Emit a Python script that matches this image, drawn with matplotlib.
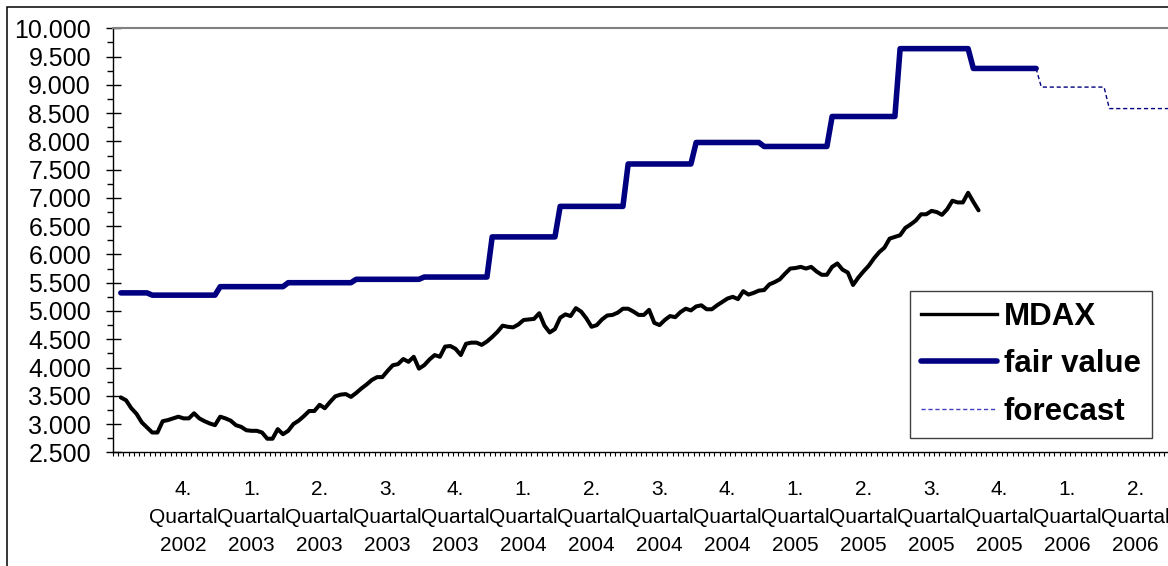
import numpy as np
import matplotlib
matplotlib.use("Agg")
import matplotlib.pyplot as plt
from matplotlib.ticker import MultipleLocator, FixedLocator, FuncFormatter
from matplotlib.patches import Rectangle
from matplotlib.lines import Line2D

plt.rcParams['font.family'] = ['Liberation Sans', 'DejaVu Sans']

# weekly MDAX closes, week 1 .. 165
mdax = [3470, 3420, 3280, 3180, 3030, 2940, 2850, 2850, 3050, 3070,
        3100, 3130, 3100, 3100, 3190, 3100, 3050, 3010, 2980, 3130,
        3100, 3060, 2980, 2950, 2890, 2880, 2880, 2850, 2740, 2740,
        2910, 2820, 2880, 3000, 3060, 3140, 3230, 3230, 3340, 3280,
        3390, 3490, 3520, 3530, 3480, 3550, 3630, 3700, 3780, 3830,
        3830, 3940, 4040, 4060, 4150, 4100, 4190, 3980, 4040, 4140,
        4220, 4190, 4370, 4380, 4330, 4220, 4420, 4440, 4440, 4400,
        4460, 4540, 4630, 4740, 4720, 4710, 4760, 4840, 4850, 4860,
        4960, 4740, 4620, 4680, 4880, 4940, 4910, 5050, 4990, 4870,
        4720, 4750, 4850, 4920, 4930, 4970, 5040, 5040, 4990, 4930,
        4930, 5020, 4790, 4750, 4840, 4910, 4890, 4980, 5040, 5010,
        5080, 5100, 5030, 5030, 5100, 5160, 5220, 5250, 5210, 5350,
        5290, 5320, 5360, 5370, 5470, 5510, 5560, 5660, 5750, 5760,
        5780, 5750, 5780, 5700, 5640, 5640, 5780, 5840, 5730, 5680,
        5460, 5590, 5700, 5800, 5930, 6040, 6120, 6280, 6310, 6340,
        6470, 6530, 6600, 6710, 6710, 6770, 6750, 6700, 6800, 6950,
        6920, 6920, 7090, 6930, 6780]

# fair value: quarterly levels and number of weeks each level holds
fv_levels = [5320, 5280, 5430, 5500, 5560, 5600, 6310, 6850, 7600,
             7980, 7910, 8440, 9640, 9290]
fv_weeks = [6, 13, 13, 13, 13, 13, 13, 13, 13, 13, 13, 13, 14, 13]

# forecast continues from week 176
fc_levels = [9290, 8960, 8580]
fc_weeks = [1, 13, 18]

quarters = ["4.", "1.", "2.", "3.", "4.", "1.", "2.", "3.", "4.",
            "1.", "2.", "3.", "4.", "1.", "2."]
years = ["2002", "2003", "2003", "2003", "2003", "2004", "2004", "2004",
         "2004", "2005", "2005", "2005", "2005", "2006", "2006"]

W, H = 1168, 566
fig = plt.figure(figsize=(W / 100, H / 100), dpi=100)
n_cat = 208
ax = fig.add_axes([113 / W, 1 - 452.3 / H, (n_cat * 5.23) / W, (452.3 - 28.3) / H])

x_mdax = np.arange(1, len(mdax) + 1)
x_fv = np.arange(1, sum(fv_weeks) + 1)
fv = np.repeat(fv_levels, fv_weeks)
x_fc = np.arange(176, 176 + sum(fc_weeks))
fc = np.repeat(fc_levels, fc_weeks)

ax.plot(x_mdax, mdax, color='black', lw=2.9, solid_joinstyle='round',
        solid_capstyle='round')
ax.plot(x_fv, fv, color='#000080', lw=4.0, solid_joinstyle='round',
        solid_capstyle='round')
ax.plot(x_fc, fc, color='#000080', lw=1.0, linestyle=(0, (3, 2)))

ax.set_xlim(-0.5, n_cat - 0.5)
ax.set_ylim(2500, 10000)

# y axis
ax.yaxis.set_major_locator(MultipleLocator(500))
ax.yaxis.set_minor_locator(MultipleLocator(250))
ax.yaxis.set_major_formatter(FuncFormatter(lambda v, p: f"{int(v):,}".replace(",", ".")))
ax.tick_params(axis='y', which='major', direction='inout', length=10.8,
               width=1, labelsize=18, pad=10.4)
ax.tick_params(axis='y', which='minor', direction='out', length=4.3, width=1)

# x axis: ticks between weeks, labels every quarter
lab_pos = [13 * (i + 1) for i in range(len(quarters))]
ax.xaxis.set_major_locator(FixedLocator(lab_pos))
ax.set_xticklabels([f"{q}\nQuartal\n{y}" for q, y in zip(quarters, years)],
                   linespacing=1.6)
ax.xaxis.set_minor_locator(FixedLocator(np.arange(-0.5, n_cat, 1)))
ax.tick_params(axis='x', which='major', length=0, labelsize=15, pad=20)
ax.tick_params(axis='x', which='minor', direction='out', length=3, width=0.8)

for s in ['left', 'bottom']:
    ax.spines[s].set_color('black')
    ax.spines[s].set_linewidth(1)
ax.spines['top'].set_color('#808080')
ax.spines['top'].set_linewidth(1.5)
ax.spines['right'].set_visible(False)

handles = [Line2D([], [], color='black', lw=2.4),
           Line2D([], [], color='#000080', lw=4.0, solid_capstyle='round'),
           Line2D([], [], color='#4040c0', lw=1.0, linestyle=(0, (3, 2)))]
leg = ax.legend(handles, ['MDAX', 'fair value', 'forecast'],
                loc='upper left', bbox_to_anchor=(910 / W, 1 - 290.7 / H),
                bbox_transform=fig.transFigure, prop={'weight': 'bold', 'size': 22.5},
                frameon=True, fancybox=False, edgecolor='#404040', framealpha=1,
                handlelength=2.45, handletextpad=0.2, labelspacing=0.56,
                borderpad=0.35, borderaxespad=0)
leg.get_frame().set_linewidth(1)

# outer chart border
fig.patches.append(Rectangle((7.3 / W, -0.1), 1.5, (H - 6.7) / H + 0.1,
                             transform=fig.transFigure, fill=False,
                             ec='black', lw=1.1))

fig.savefig('out.png', dpi=100)
